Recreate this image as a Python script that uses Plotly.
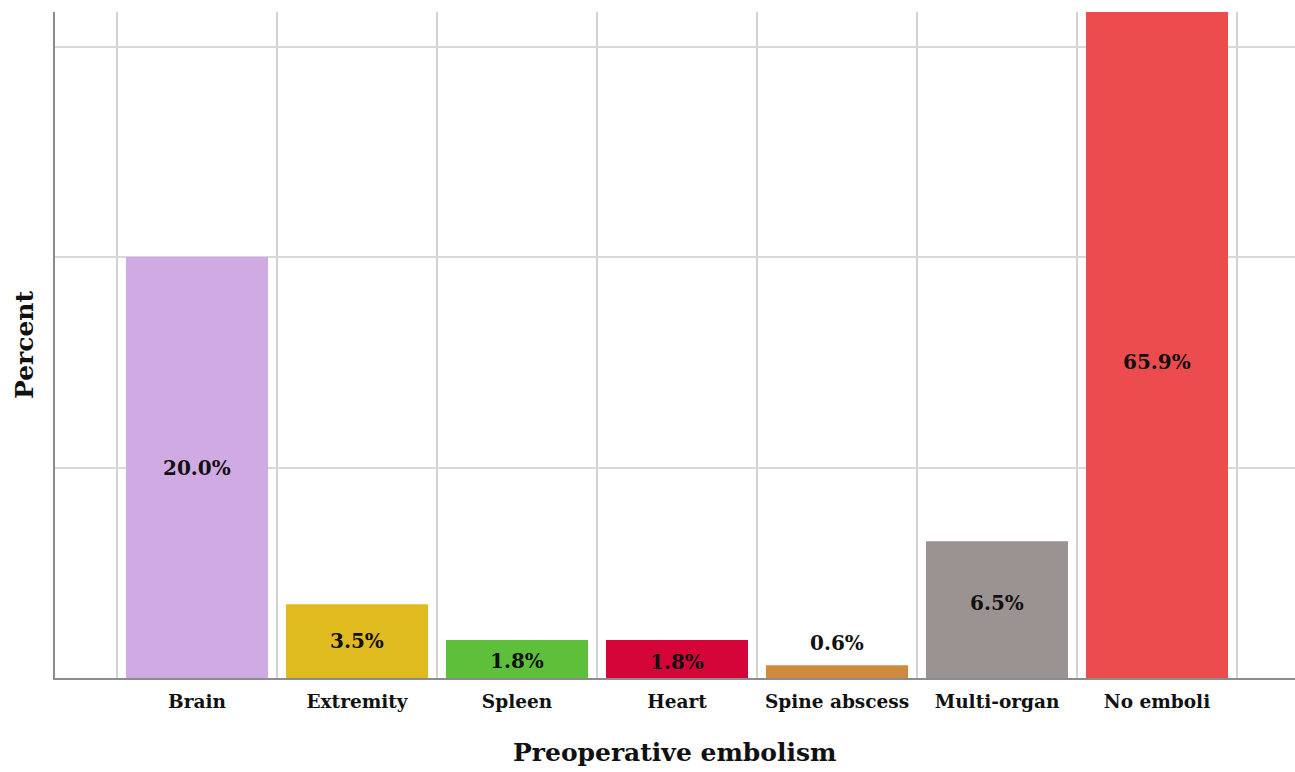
import plotly.graph_objects as go

# Preoperative embolism distribution (percent of patients)
categories = ["Brain", "Extremity", "Spleen", "Heart", "Spine abscess", "Multi-organ", "No emboli"]
percent = [20.0, 3.5, 1.8, 1.8, 0.6, 6.5, 65.9]
colors = ["#D0AAE3", "#E0BB1F", "#5EC03A", "#D5053A", "#D08A3E", "#9A9392", "#EC4C4E"]
# vertical placement of each value label (in percent units)
label_y = [10.0, 1.76, 0.81, 0.76, 1.66, 3.55, 15.0]

FONT = "DejaVu Serif"

fig = go.Figure(
    go.Bar(
        x=categories,
        y=percent,
        marker=dict(color=colors, line=dict(width=0)),
        width=0.8875,
        hoverinfo="skip",
    )
)

for cat, val, ly in zip(categories, percent, label_y):
    fig.add_annotation(
        x=cat, y=ly, xref="x", yref="y",
        text=f"<b>{val:.1f}%</b>",
        showarrow=False,
        font=dict(family=FONT, size=20, color="#111111"),
        xanchor="center", yanchor="middle",
    )

fig.add_annotation(
    x=0.5, y=0, xref="paper", yref="paper", yshift=-74,
    text="<b>Preoperative embolism</b>", showarrow=False,
    font=dict(family=FONT, size=25, color="#111111"),
    xanchor="center", yanchor="middle",
)
fig.add_annotation(
    x=0, y=0.5, xref="paper", yref="paper", xshift=-31,
    text="<b>Percent</b>", showarrow=False, textangle=-90,
    font=dict(family=FONT, size=25, color="#111111"),
    xanchor="center", yanchor="middle",
)

fig.update_layout(
    width=1295, height=772,
    margin=dict(l=55, r=0, t=12, b=94),
    paper_bgcolor="white", plot_bgcolor="white",
    showlegend=False,
    xaxis=dict(
        type="category",
        range=[-0.8875, 6.8625],
        tickson="boundaries",
        ticks="",
        ticklabelstandoff=6,
        tickvals=categories,
        ticktext=[f"<b>{c}</b>" for c in categories],
        showgrid=True, gridcolor="#D2D2D2", gridwidth=2,
        showline=True, linecolor="#8C8C8C", linewidth=2,
        tickfont=dict(family=FONT, size=18.5, color="#111111"),
        zeroline=False,
    ),
    yaxis=dict(
        range=[0, 31.64],
        tickvals=[10, 20, 30],
        showticklabels=False,
        ticks="",
        showgrid=True, gridcolor="#D8D8D8", gridwidth=2,
        showline=True, linecolor="#8C8C8C", linewidth=2,
        zeroline=False,
    ),
)

fig.write_html("out.html")
